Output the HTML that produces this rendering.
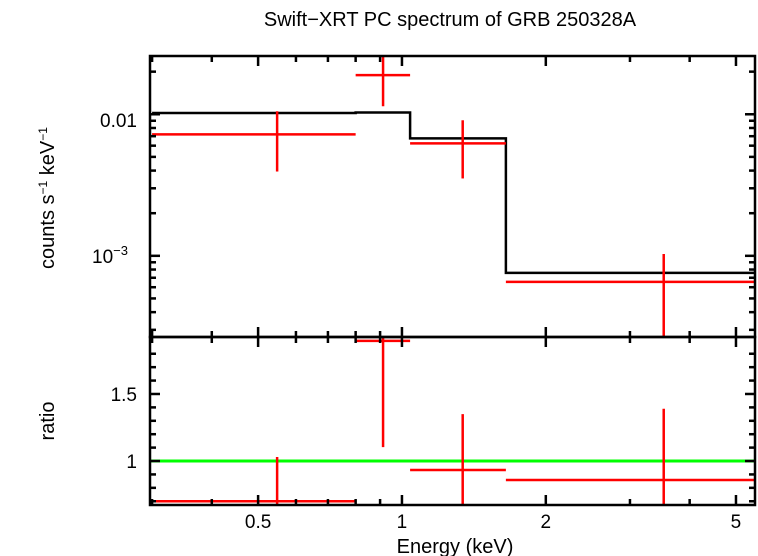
<!DOCTYPE html>
<html><head><meta charset="utf-8"><style>
body{margin:0;background:#fff;}
svg{display:block;font-family:"Liberation Sans",sans-serif;}
</style></head><body>
<svg id="c" width="758" height="556" xmlns="http://www.w3.org/2000/svg"></svg>
<script>
const binLo=[0.3,0.8,1.04,1.65];
const binHi=[0.8,1.04,1.65,5.5];
const binCenter=[0.548,0.913,1.34,3.53];
const rate=[0.00721,0.0189,0.00623,0.000654];
const rateErrHi=[0.0105,0.04,0.00907,0.00103];
const rateErrLo=[0.00394,0.0114,0.00352,0.0002];
const model=[0.0102,0.0103,0.00676,0.000758];
const ratio=[0.70,1.896,0.933,0.858];
const ratioErrHi=[1.03,2.2,1.35,1.39];
const ratioErrLo=[0.4,1.104,0.4,0.4];
const xTickLabels=[0.5,1,2,5];
const ratioTicks=[1,1.5];

const L=150,R=755,T=56,M=337,B=505;
const xMin=0.297,xMax=5.48;
const yTopMin=2.67e-4,yTopMax=0.0258;
const rMin=0.672,rMax=1.925;
const X=v=>L+(Math.log10(v)-Math.log10(xMin))/(Math.log10(xMax)-Math.log10(xMin))*(R-L);
const YT=v=>M-(Math.log10(v)-Math.log10(yTopMin))/(Math.log10(yTopMax)-Math.log10(yTopMin))*(M-T);
const YR=v=>B-(v-rMin)/(rMax-rMin)*(B-M);
const svg=document.getElementById('c');
const NS='http://www.w3.org/2000/svg';
function mk(tag,a,parent){const e=document.createElementNS(NS,tag);for(const k in a)e.setAttribute(k,a[k]);(parent||svg).appendChild(e);return e;}
function line(x1,y1,x2,y2,col,w,name,par){const e=mk('line',{x1,y1,x2,y2,stroke:col,'stroke-width':w},par);return e;}
function txt(x,y,s,name,extra){const e=mk('text',Object.assign({x,y,'font-size':19,fill:'#000'},extra||{}));e.textContent=s;return e;}

const defs=mk('defs',{});
const c1=mk('clipPath',{id:'cp1'},defs);mk('rect',{x:L,y:T,width:R-L,height:M-T},c1);
const c2=mk('clipPath',{id:'cp2'},defs);mk('rect',{x:L,y:M,width:R-L,height:B-M},c2);
const g1=mk('g',{'clip-path':'url(#cp1)'});
const g2=mk('g',{'clip-path':'url(#cp2)'});

let d='';
for(let i=0;i<binLo.length;i++){d+=(i?'L':'M')+X(binLo[i])+','+YT(model[i])+'L'+X(binHi[i])+','+YT(model[i]);}
const mp=mk('path',{d,fill:'none',stroke:'#000','stroke-width':2.5},g1);


for(let i=0;i<binLo.length;i++){
 line(X(binLo[i]),YT(rate[i]),X(binHi[i]),YT(rate[i]),'#f00',2.5,'data-bin-'+(i+1),g1);
 line(X(binCenter[i]),YT(rateErrLo[i]),X(binCenter[i]),YT(rateErrHi[i]),'#f00',2.5,'data-error-'+(i+1),g1);
}
line(L,YR(1),R,YR(1),'#0f0',3,'ratio-unity-line',g2);
for(let i=0;i<binLo.length;i++){
 line(X(binLo[i]),YR(ratio[i]),X(binHi[i]),YR(ratio[i]),'#f00',2.5,'ratio-bin-'+(i+1),g2);
 line(X(binCenter[i]),YR(ratioErrLo[i]),X(binCenter[i]),YR(ratioErrHi[i]),'#f00',2.5,'ratio-error-'+(i+1),g2);
}

const f1=mk('rect',{x:L,y:T,width:R-L,height:M-T,fill:'none',stroke:'#000','stroke-width':2.5});

const f2=mk('rect',{x:L,y:M,width:R-L,height:B-M,fill:'none',stroke:'#000','stroke-width':2.5});


const minorX=[0.3,0.4,0.5,0.6,0.7,0.8,0.9,1,2,3,4,5];
minorX.forEach(v=>{
 const big=xTickLabels.includes(v);const len=big?10:6;const x=X(v);
 [[T,1],[M,-1],[M,1],[B,-1]].forEach(([y,s])=>line(x,y,x,y+s*len,'#000',2.5,'x-tick'));
});
xTickLabels.forEach(v=>txt(X(v),528,String(v),'x-tick-label',{'text-anchor':'middle'}));

for(let e=-4;e<=-2;e++){for(let m=1;m<=9;m++){const v=m*Math.pow(10,e);if(v<yTopMin||v>yTopMax)continue;const y=YT(v);const len=m===1?10:6;
 line(L,y,L+len,y,'#000',2.5,'y-tick');line(R,y,R-len,y,'#000',2.5,'y-tick');}}
txt(137,127,'0.01','y-tick-label-0.01',{'text-anchor':'end'});
const t3=txt(128,263,'10','y-tick-label-1e-3',{'text-anchor':'end'});
const sup=mk('tspan',{dy:-8,'font-size':13},t3);sup.textContent='−3';

for(let v=0.7;v<=1.9;v+=0.1){const y=YR(v);const big=Math.abs(v-1)<1e-6||Math.abs(v-1.5)<1e-6;const len=big?10:6;
 line(L,y,L+len,y,'#000',2.5,'ratio-y-tick');line(R,y,R-len,y,'#000',2.5,'ratio-y-tick');}
ratioTicks.forEach(v=>txt(137,YR(v)+7,String(v),'ratio-y-tick-label',{'text-anchor':'end'}));

txt(450,26,'Swift−XRT PC spectrum of GRB 250328A','chart-title',{'text-anchor':'middle','font-size':20});
txt(455,553,'Energy (keV)','x-axis-title',{'text-anchor':'middle','font-size':20});
const yl=txt(0,0,'counts s','y-axis-title',{'text-anchor':'middle','font-size':20,transform:'translate(54,198) rotate(-90)'});
const s1=mk('tspan',{dy:-7,'font-size':12},yl);s1.textContent='−1';
const s2=mk('tspan',{dy:7},yl);s2.textContent=' keV';
const s3=mk('tspan',{dy:-7,'font-size':12},yl);s3.textContent='−1';
txt(0,0,'ratio','ratio-axis-title',{'text-anchor':'middle','font-size':20,transform:'translate(54,421) rotate(-90)'});
</script>
</body></html>
